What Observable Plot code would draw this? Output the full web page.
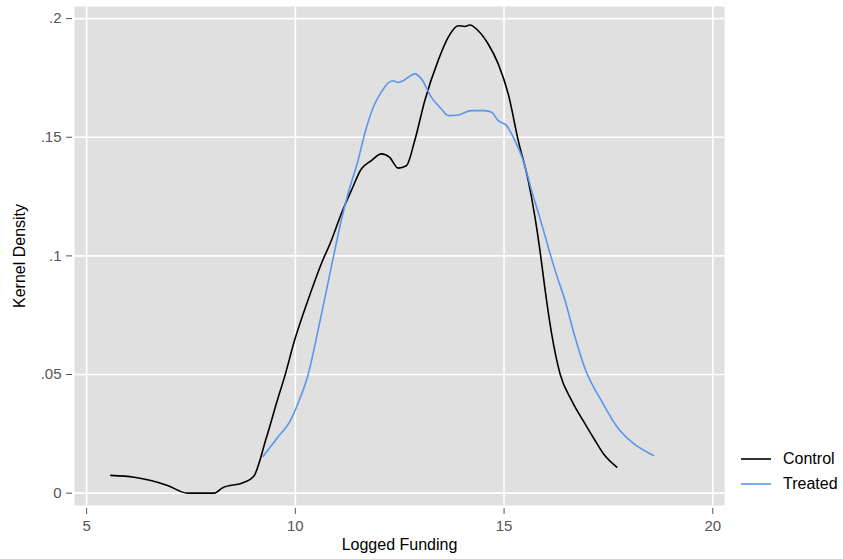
<!DOCTYPE html>
<html>
<head>
<meta charset="utf-8">
<script src="https://cdn.jsdelivr.net/npm/d3@7"></script>
<script src="https://cdn.jsdelivr.net/npm/@observablehq/plot@0.6"></script>
<style>
  body { margin: 0; background: #fff; font-family: "Liberation Sans", Arial, sans-serif; }
  #wrap { position: relative; width: 843px; height: 559px; }
  #legend { position: absolute; left: 741px; top: 446px; font-size: 16px; color: #000; }
  #legend .item { display: flex; align-items: center; height: 25px; }
  #legend svg { margin-right: 12px; }
</style>
</head>
<body>
<div id="wrap"><div id="chart"></div><div id="legend"></div></div>
<script>
// Control series (Logged Funding, Kernel Density)
const controlX = [5.58, 6.14, 6.54, 6.94, 7.42, 8.06, 8.26, 8.76, 9.00, 9.30, 9.58, 9.74, 9.98, 10.30, 10.62, 10.86, 11.10, 11.34, 11.58, 11.82, 12.06, 12.26, 12.46, 12.66, 12.86, 13.10, 13.42, 13.66, 13.90, 14.06, 14.18, 14.38, 14.62, 14.86, 15.10, 15.34, 15.58, 15.74, 15.86, 15.98, 16.14, 16.34, 16.62, 16.94, 17.18, 17.38, 17.70];
const controlY = [0.0075, 0.0067, 0.0053, 0.0032, 0.0, 0.0, 0.0023, 0.0045, 0.007, 0.023, 0.0398, 0.0489, 0.0643, 0.0812, 0.0966, 0.1064, 0.1177, 0.1275, 0.1366, 0.1401, 0.143, 0.1415, 0.137, 0.138, 0.1486, 0.1654, 0.1823, 0.1921, 0.197, 0.1967, 0.1973, 0.1949, 0.1893, 0.1809, 0.1682, 0.1486, 0.1317, 0.1163, 0.1022, 0.086, 0.0671, 0.0503, 0.039, 0.0292, 0.0222, 0.0166, 0.011];
// Treated series
const treatedX = [9.23, 9.58, 9.86, 10.06, 10.30, 10.56, 10.86, 11.10, 11.26, 11.50, 11.66, 11.90, 12.06, 12.22, 12.34, 12.46, 12.58, 12.70, 12.86, 13.02, 13.26, 13.50, 13.66, 13.90, 14.22, 14.54, 14.70, 14.86, 15.06, 15.26, 15.46, 15.66, 15.90, 16.06, 16.22, 16.46, 16.70, 16.94, 17.34, 17.74, 18.06, 18.58];
const treatedY = [0.0156, 0.0236, 0.0299, 0.0377, 0.0496, 0.070, 0.0952, 0.1149, 0.1261, 0.1401, 0.1514, 0.164, 0.169, 0.1728, 0.1738, 0.1731, 0.1738, 0.1752, 0.1767, 0.1746, 0.1668, 0.1619, 0.1591, 0.1594, 0.1612, 0.1612, 0.1605, 0.157, 0.1549, 0.1486, 0.1401, 0.1275, 0.1135, 0.1035, 0.094, 0.0812, 0.0657, 0.0524, 0.0387, 0.0271, 0.0215, 0.0159];

const seriesNames = ["Control", "Treated"];
const seriesColors = ["#000000", "#5a95ee"];
const xTicks = [5, 10, 15, 20];
const xTickLabels = ["5", "10", "15", "20"];
const yTicks = [0, 0.05, 0.1, 0.15, 0.2];
const yTickLabels = ["0", ".05", ".1", ".15", ".2"];
const xTitle = "Logged Funding";
const yTitle = "Kernel Density";

const data = [
  ...controlX.map((x, i) => ({ series: seriesNames[0], x, y: controlY[i] })),
  ...treatedX.map((x, i) => ({ series: seriesNames[1], x, y: treatedY[i] }))
];

const chart = Plot.plot({
  width: 843,
  height: 559,
  marginLeft: 74,
  marginRight: 119,
  marginTop: 6,
  marginBottom: 54,
  style: { fontFamily: "'Liberation Sans', Arial, sans-serif", fontSize: "15px", background: "#fff" },
  x: { domain: [4.71, 20.28] },
  y: { domain: [-0.0052, 0.2051] },
  color: { domain: seriesNames, range: seriesColors },
  marks: [
    Plot.frame({ fill: "#e0e0e0", stroke: null }),
    Plot.gridX(xTicks, { stroke: "#fff", strokeOpacity: 1, strokeWidth: 1.6 }),
    Plot.gridY(yTicks, { stroke: "#fff", strokeOpacity: 1, strokeWidth: 1.6 }),
    Plot.axisX({
      ticks: xTicks, tickFormat: (d) => xTickLabels[xTicks.indexOf(d)],
      tickSize: 6, tickPadding: 6, dy: 3, color: "#555",
      label: xTitle, labelArrow: "none", labelAnchor: "center", labelOffset: 44
    }),
    Plot.axisY({
      ticks: yTicks, tickFormat: (d) => yTickLabels[yTicks.indexOf(d)],
      tickSize: 6, tickPadding: 5, dx: -2, color: "#555",
      label: yTitle, labelArrow: "none", labelAnchor: "center", labelOffset: 61
    }),
    Plot.line(data, { x: "x", y: "y", z: "series", stroke: "series", strokeWidth: 1.6, curve: "monotone-x" })
  ]
});
document.getElementById("chart").appendChild(chart);
// axis titles: black, 16px, no arrows
chart.querySelectorAll("[aria-label$='axis label']").forEach(g => {
  g.setAttribute("fill", "#000");
  g.setAttribute("font-size", "16px");
  g.querySelectorAll("text").forEach(t => {
    t.setAttribute("fill", "#000");
    t.textContent = t.textContent.replace(/[\u2190-\u2193]/g, "").trim();
  });
});

const legend = document.getElementById("legend");
seriesNames.forEach((name, i) => {
  const item = document.createElement("div");
  item.className = "item";
  item.innerHTML = `<svg width="30" height="4"><line x1="0" x2="30" y1="2" y2="2" stroke="${seriesColors[i]}" stroke-width="1.6"/></svg><span>${name}</span>`;
  legend.appendChild(item);
});
</script>
</body>
</html>
